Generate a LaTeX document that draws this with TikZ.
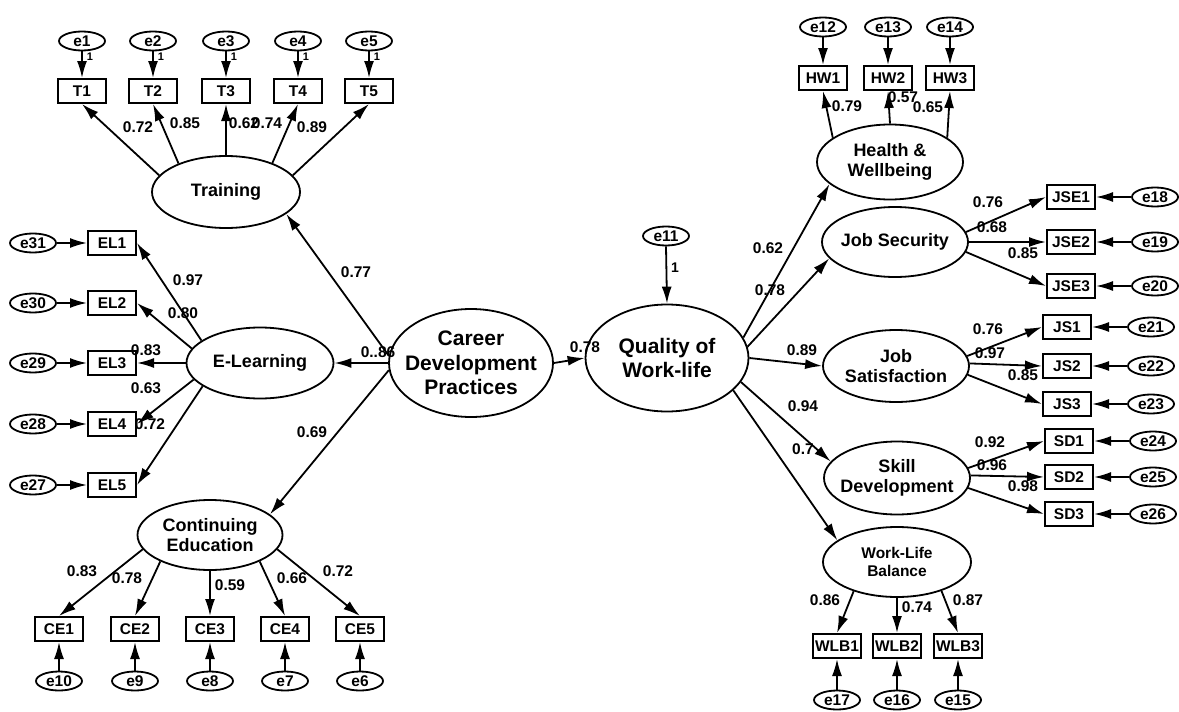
\documentclass[tikz,border=0pt]{standalone}
\usepackage{fontspec}
\setmainfont{Liberation Sans}
\usetikzlibrary{shapes.geometric,arrows.meta}
\tikzset{
  lat/.style={draw, ellipse, line width=1.8pt, inner sep=0pt},
  ltxt/.style={align=center, inner sep=0pt, font=\fontsize{18}{20.5}\selectfont\bfseries},
  btxt/.style={align=center, inner sep=0pt, font=\fontsize{21}{24.5}\selectfont\bfseries},
  stxt/.style={align=center, inner sep=0pt, font=\fontsize{15.5}{18}\selectfont\bfseries},
  obs/.style={draw, rectangle, line width=2pt, minimum width=48pt, minimum height=24pt, inner sep=1pt, font=\fontsize{15.5}{15.5}\selectfont\bfseries},
  err/.style={draw, ellipse, line width=1.8pt, minimum width=46pt, minimum height=19pt, inner sep=0pt, font=\fontsize{15.5}{15.5}\selectfont\bfseries},
  lbl/.style={inner sep=0pt, font=\fontsize{15.5}{15.5}\selectfont\bfseries},
  one/.style={inner sep=0pt, font=\fontsize{11}{11}\selectfont\bfseries},
  arr/.style={line width=1.8pt, -{Latex[length=17pt,width=10pt]}},
}
\begin{document}
\begin{tikzpicture}[x=1pt,y=-1pt]
\fill[white] (0,0) rectangle (1179,712);
\useasboundingbox (0,0) rectangle (1179,712);

% ---------- latent variables ----------
\node[lat, minimum width=148pt, minimum height=72pt, label={[ltxt]center:Training}] (Tr) at (226,192) {};
\node[lat, minimum width=147pt, minimum height=71pt, label={[ltxt]center:E-Learning}] (EL) at (260,363) {};
\node[lat, minimum width=145pt, minimum height=70pt, label={[ltxt]center:Continuing\\Education}] (CE) at (210,535) {};
\node[lat, minimum width=164pt, minimum height=108pt, label={[btxt]center:Career\\Development\\Practices}] (CDP) at (471,363) {};
\node[lat, minimum width=163pt, minimum height=107pt, label={[btxt]center:Quality of\\Work-life}] (QWL) at (667,358) {};
\node[lat, minimum width=146pt, minimum height=75pt, label={[ltxt]center:Health \&\\Wellbeing}] (HW) at (890,162) {};
\node[lat, minimum width=146pt, minimum height=70pt, label={[ltxt]center:Job Security}] (JSE) at (895,242) {};
\node[lat, minimum width=146pt, minimum height=72pt, label={[ltxt]center:Job\\Satisfaction}] (JS) at (896,366) {};
\node[lat, minimum width=146pt, minimum height=73pt, label={[ltxt]center:Skill\\Development}] (SD) at (897,478) {};
\node[lat, minimum width=148pt, minimum height=70pt, label={[stxt]center:Work-Life\\Balance}] (WLB) at (897,562) {};
\node[err] (e11) at (666,236) {e11};

% ---------- Training ----------
\foreach \i/\x in {1/82,2/153,3/226,4/298,5/369}{
  \node[obs] (T\i) at (\x,91) {T\i};
  \node[err] (e\i) at (\x,41) {e\i};
  \draw[arr] (e\i.south) -- (T\i.north);
  \node[one] (o\i) at (\x+8,57) {1};
}
\draw[arr] (Tr.166) -- (T1.south);
\draw[arr] (Tr.149) -- (T2.south);
\draw[arr] (Tr.90) -- (T3.south);
\draw[arr] (Tr.32) -- (T4.south);
\draw[arr] (Tr.14) -- (T5.south);
\node[lbl] (lT1) at (138,127) {0.72};
\node[lbl] (lT2) at (185,123) {0.85};
\node[lbl] (lT3) at (244,123) {0.62};
\node[lbl] (lT4) at (267,123) {0.74};
\node[lbl] (lT5) at (312,127) {0.89};

% ---------- E-Learning ----------
\foreach \i/\e/\y in {1/31/243,2/30/303,3/29/363,4/28/424,5/27/485}{
  \node[obs] (EL\i) at (112,\y) {EL\i};
  \node[err] (e\e) at (33,\y) {e\e};
  \draw[arr] (e\e.east) -- (EL\i.west);
}
\draw[arr] (EL.159) -- (EL1.east);
\draw[arr] (EL.168) -- (EL2.east);
\draw[arr] (EL.180) -- (EL3.east);
\draw[arr] (EL.194) -- (EL4.east);
\draw[arr] (EL.202) -- (EL5.east);
\node[lbl] (lEL1) at (188,280) {0.97};
\node[lbl] (lEL2) at (183,313) {0.80};
\node[lbl] (lEL3) at (146,350) {0.83};
\node[lbl] (lEL4) at (146,388) {0.63};
\node[lbl] (lEL5) at (150,424) {0.72};

% ---------- Continuing Education ----------
\foreach \i/\e/\x in {1/10/59,2/9/135,3/8/210,4/7/285,5/6/360}{
  \node[obs] (CE\i) at (\x,629) {CE\i};
  \node[err] (e\e) at (\x,681) {e\e};
  \draw[arr] (e\e.north) -- (CE\i.south);
}
\draw[arr] (CE.192) -- (CE1.north);
\draw[arr] (CE.208) -- (CE2.north);
\draw[arr] (CE.270) -- (CE3.north);
\draw[arr] (CE.332) -- (CE4.north);
\draw[arr] (CE.348) -- (CE5.north);
\node[lbl] (lCE1) at (82,571) {0.83};
\node[lbl] (lCE2) at (127,578) {0.78};
\node[lbl] (lCE3) at (230,585) {0.59};
\node[lbl] (lCE4) at (292,578) {0.66};
\node[lbl] (lCE5) at (338,571) {0.72};

% ---------- second order ----------
\draw[arr] (CDP.175) -- (Tr.340);
\draw[arr] (CDP.180) -- (EL.0);
\draw[arr] (CDP.185) -- (CE.19);
\draw[arr] (CDP.east) -- (QWL.west);
\draw[arr] (e11.south) -- (QWL.north);
\node[lbl] (lTr) at (356,272) {0.77};
\node[lbl] (lEL) at (378,352) {0..86};
\node[lbl] (lCE) at (312,432) {0.69};
\node[lbl] (lQ) at (585,347) {0.78};
\node[one, font=\fontsize{14}{14}\selectfont\bfseries] (o11) at (675,268) {1};

\draw[arr] (QWL.15) -- (HW.200);
\draw[arr] (QWL.8) -- (JSE.194);
\draw[arr] (QWL.0) -- (JS.180);
\draw[arr] (QWL.342) -- (SD.166);
\draw[arr] (QWL.334) -- (WLB.160);
\node[lbl] (lHW) at (768,248) {0.62};
\node[lbl] (lJSE) at (770,290) {0.78};
\node[lbl] (lJS) at (802,350) {0.89};
\node[lbl] (lSD) at (803,406) {0.94};
\node[lbl] (lWLB) at (803,449) {0.7};

% ---------- Health & Wellbeing ----------
\foreach \i/\e/\x in {1/12/823,2/13/888,3/14/950}{
  \node[obs] (HW\i) at (\x,78) {HW\i};
  \node[err] (e\e) at (\x,27) {e\e};
  \draw[arr] (e\e.south) -- (HW\i.north);
}
\draw[arr] (HW.157) -- (HW1.south);
\draw[arr] (HW.90) -- (HW2.south);
\draw[arr] (HW.23) -- (HW3.south);
\node[lbl] (lHW1) at (847,106) {0.79};
\node[lbl] (lHW2) at (903,97) {0.57};
\node[lbl] (lHW3) at (928,107) {0.65};

% ---------- Job Security ----------
\foreach \i/\e/\y in {1/18/197,2/19/242,3/20/286}{
  \node[obs] (JSE\i) at (1071,\y) {JSE\i};
  \node[err] (e\e) at (1155,\y) {e\e};
  \draw[arr] (e\e.west) -- (JSE\i.east);
}
\draw[arr] (JSE.8) -- (JSE1.west);
\draw[arr] (JSE.0) -- (JSE2.west);
\draw[arr] (JSE.352) -- (JSE3.west);
\node[lbl] (lJSE1) at (988,202) {0.76};
\node[lbl] (lJSE2) at (992,227) {0.68};
\node[lbl] (lJSE3) at (1023,253) {0.85};

% ---------- Job Satisfaction ----------
\foreach \i/\e/\y in {1/21/327,2/22/366,3/23/404}{
  \node[obs] (JS\i) at (1067,\y) {JS\i};
  \node[err] (e\e) at (1151,\y) {e\e};
  \draw[arr] (e\e.west) -- (JS\i.east);
}
\draw[arr] (JS.8) -- (JS1.west);
\draw[arr] (JS.2) -- (JS2.west);
\draw[arr] (JS.353) -- (JS3.west);
\node[lbl] (lJS1) at (988,329) {0.76};
\node[lbl] (lJS2) at (990,353) {0.97};
\node[lbl] (lJS3) at (1023,375) {0.85};

% ---------- Skill Development ----------
\foreach \i/\e/\y in {1/24/441,2/25/477,3/26/514}{
  \node[obs] (SD\i) at (1069,\y) {SD\i};
  \node[err] (e\e) at (1153,\y) {e\e};
  \draw[arr] (e\e.west) -- (SD\i.east);
}
\draw[arr] (SD.8) -- (SD1.west);
\draw[arr] (SD.2) -- (SD2.west);
\draw[arr] (SD.352) -- (SD3.west);
\node[lbl] (lSD1) at (990,442) {0.92};
\node[lbl] (lSD2) at (992,465) {0.96};
\node[lbl] (lSD3) at (1023,486) {0.98};

% ---------- Work-Life Balance ----------
\foreach \i/\e/\x in {1/17/837,2/16/897,3/15/958}{
  \node[obs] (WLB\i) at (\x,646) {WLB\i};
  \node[err] (e\e) at (\x,700) {e\e};
  \draw[arr] (e\e.north) -- (WLB\i.south);
}
\draw[arr] (WLB.214) -- (WLB1.north);
\draw[arr] (WLB.270) -- (WLB2.north);
\draw[arr] (WLB.327) -- (WLB3.north);
\node[lbl] (lW1) at (825,600) {0.86};
\node[lbl] (lW2) at (917,607) {0.74};
\node[lbl] (lW3) at (968,600) {0.87};
\end{tikzpicture}
\end{document}
